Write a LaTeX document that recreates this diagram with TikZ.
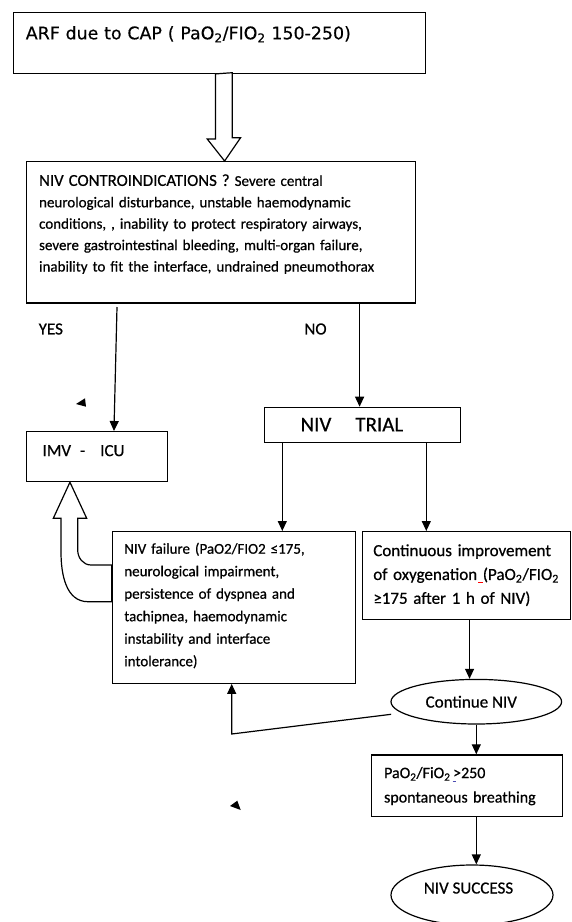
\documentclass[tikz,border=0pt]{standalone}
\usepackage{fontspec}
\setmainfont{Carlito}[FakeBold=0.6]
\newfontfamily\verdanafont{DejaVu Sans}[FakeBold=0.4]
\usepackage{tikz}
\usetikzlibrary{arrows.meta, shapes.geometric, calc}

\tikzset{
  box/.style={draw, line width=1.2pt, rectangle, anchor=north west, inner ysep=0pt, align=left},
  oval/.style={draw, line width=1.2pt, ellipse, inner sep=0pt},
  arr/.style={line width=1.2pt, -{Triangle[length=10pt,width=9pt]}},
  hollow/.style={line width=1.2pt, fill=white, line join=miter}
}

\begin{document}
\begin{tikzpicture}[x=1pt,y=-1pt]
        \useasboundingbox (0,0) rectangle (571,922);
        % Boxes
        \node[box, inner xsep=12.5pt, text width=387pt, text height=27pt, text depth=34pt,
              font=\verdanafont\fontsize{17.4}{20}\selectfont] (arf) at (12.7,11.7)
              {ARF due to CAP ( PaO\textsubscript{2}/FIO\textsubscript{2} 150-250)};
        \node[box, inner xsep=12.5pt, text width=364pt, text height=24.3pt, text depth=117pt,
              font=\fontsize{15}{21.4}\selectfont] (contra) at (26,161)
              {{\fontsize{16.8}{21.4}\selectfont NIV CONTROINDICATIONS ?} Severe central\\
               neurological disturbance, unstable haemodynamic\\
               conditions, , inability to protect respiratory airways,\\
               severe gastrointestinal bleeding, multi-organ failure,\\
               inability to fit the interface, undrained pneumothorax};
        \node[box, inner xsep=16pt, text width=108.7pt, text height=24.5pt, text depth=25.5pt,
              font=\fontsize{17}{20}\selectfont] (imv) at (26,431) {IMV\hspace{9pt}-\hspace{15pt}ICU};
        \node[box, inner xsep=36pt, text width=124pt, text height=24.1pt, text depth=10.9pt,
              font=\fontsize{21}{24}\selectfont] (trial) at (264,406.7) {NIV\hspace{24pt}TRIAL};
        \node[box, inner xsep=12pt, text width=219.3pt, text height=22.1pt, text depth=129.6pt,
              font=\fontsize{15}{22.5}\selectfont] (fail) at (111.7,531)
              {NIV failure (PaO2/FIO2 ≤175,\\
               neurological impairment,\\
               persistence of dyspnea and\\
               tachipnea, haemodynamic\\
               instability and interface\\
               intolerance)};
        \node[box, inner xsep=11pt, text width=186.3pt, text height=24.5pt, text depth=63.5pt,
              font=\fontsize{17}{23.85}\selectfont] (cont) at (361.7,531)
              {Continuous improvement\\
               of oxygenation (PaO\textsubscript{2}/FIO\textsubscript{2}\\
               ≥175 after 1 h of NIV)};
        \node[box, inner xsep=12.5pt, text width=165.7pt, text height=23.2pt, text depth=38.5pt,
              font=\fontsize{16}{24.4}\selectfont] (pao) at (371,754.3)
              {PaO\textsubscript{2}/FiO\textsubscript{2}\,>250\\
               spontaneous breathing};
        % Ovals
        \node[oval, minimum width=170.6pt, minimum height=44.6pt,
              font=\fontsize{17}{20}\selectfont] (contnv) at (476.3,701.7) {Continue NIV\hspace*{10pt}};
        \node[oval, minimum width=162pt, minimum height=60pt, text depth=14pt,
              font=\fontsize{17}{20}\selectfont] (success) at (472,895) {NIV SUCCESS\hspace*{7pt}};
        % Labels
        \node[font=\fontsize{17}{20}\selectfont] (yes) at (50.8,329) {YES};
        \node[font=\fontsize{17}{20}\selectfont] (no) at (315.5,329) {NO};
        % Arrows
        \coordinate (yesstart) at (117,307);
        \coordinate (bend) at (231.7,734);
        \draw[arr] (yesstart) -- ([xshift=17pt]imv.north);
        \draw[arr] ([xshift=138.5pt]contra.south) -- ([xshift=138.5pt]contra.south |- trial.north);
        \draw[arr] ([xshift=-80.3pt]trial.south) -- ([xshift=-80.3pt]trial.south |- fail.north);
        \draw[arr] ([xshift=63.7pt]trial.south) -- ([xshift=63.7pt]trial.south |- cont.north);
        \draw[arr] ([xshift=3.1pt]cont.south) -- ([xshift=3.1pt]cont.south |- contnv.north);
        \draw[arr] (contnv.south) -- (contnv.south |- pao.north);
        \draw[arr] (contnv.south |- pao.south) -- (contnv.south |- success.north);
        \draw[arr] ($(contnv.west)+(0.7,12.6)$) -- (bend) -- (bend |- fail.south);
        % Hollow arrows
        \draw[hollow] ([xshift=-3.85pt]arf.south) -- ++(0,65) -- ++(-8.3,0)
              -- ([xshift=3.5pt]contra.north) -- ++(16,-23.3) -- ++(-8.3,0) -- ++(0,-65) -- cycle;
        \draw[hollow] ([xshift=-27pt]imv.south) -- (86.7,518.3) -- (77.7,518.3) -- (77.7,550)
              to[out=-90,in=180] (91,565) -- (fail.west |- 0,565) -- (fail.west |- 0,601.7)
              -- (88,601.7) to[out=180,in=-90] (61,552) -- (61,518.3) -- (53.3,518.3) -- cycle;
        % Stray tips
        \fill (76,404) -- (85,398.3) -- (86,406.7) -- cycle;
        \fill (230,806) -- (237.3,800.7) -- (240.7,810) -- cycle;
        % Spelling marks
        \draw[red, line width=1.2pt] (478,582.7) -- (483,582.7);
        \draw[blue!40!gray, line width=0.8pt] (452.5,781.7) -- (456,781.7);
\end{tikzpicture}
\end{document}
